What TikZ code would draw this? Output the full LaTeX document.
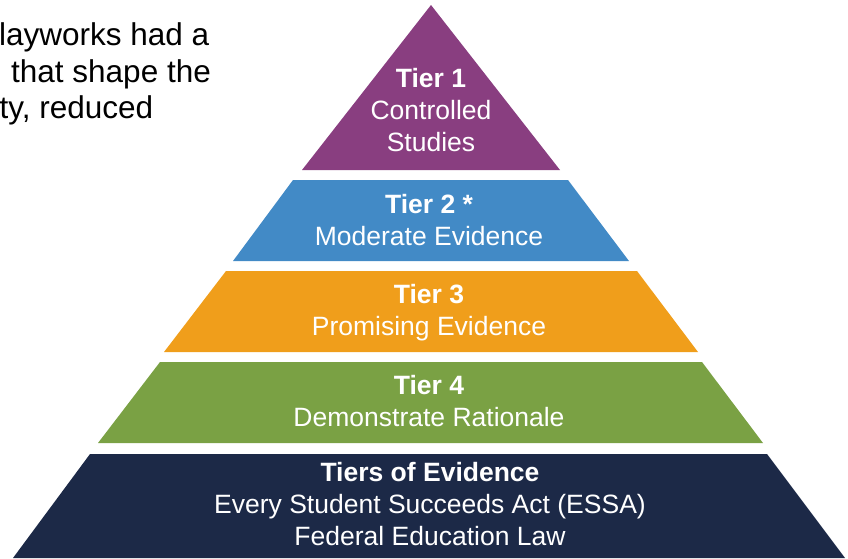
\documentclass[tikz,border=0pt]{standalone}
\usepackage{fontspec}
\setmainfont{Liberation Sans}
\definecolor{tierpurple}{RGB}{137,62,128}
\definecolor{tierblue}{RGB}{66,138,198}
\definecolor{tierorange}{RGB}{240,158,27}
\definecolor{tiergreen}{RGB}{122,161,68}
\definecolor{tiernavy}{RGB}{28,41,71}

\begin{document}
\begin{tikzpicture}[x=1pt,y=-1pt,
		tierlabel/.style={text=white, align=center, inner sep=0pt, font=\fontsize{26.5}{32}\selectfont},
		notetext/.style={anchor=base west, inner sep=0pt, font=\fontsize{31.5}{36}\selectfont}]
		%%%%% START %%%%%
		
		\useasboundingbox (0,0) rectangle (848,558);
		
		% clipped paragraph, top left
		\node[notetext] (note1) at (-1, 45) {layworks had a};
		\node[notetext] (note2) at (11, 82) {that shape the};
		\node[notetext] (note3) at (-0.5, 118) {ty, reduced};
		
		% pyramid bands
		\fill[tierpurple] (431, 5) -- (560, 170) -- (302, 170) -- cycle;
		\fill[tierblue] (293, 180) -- (568, 180) -- (629, 261) -- (233, 261) -- cycle;
		\fill[tierorange] (226, 271) -- (637, 271) -- (698, 352) -- (164, 352) -- cycle;
		\fill[tiergreen] (160, 362) -- (702, 362) -- (763, 443) -- (98, 443) -- cycle;
		\fill[tiernavy] (90, 454) -- (767, 454) -- (845, 558) -- (13, 558) -- cycle;
		
		\node[tierlabel] (tier1) at (431, 110) {\textbf{Tier 1}\\Controlled\\Studies};
		\node[tierlabel] (tier2) at (429, 220) {\textbf{Tier 2 *}\\Moderate Evidence};
		\node[tierlabel] (tier3) at (429, 313) {\textbf{Tier 3}\\Promising Evidence};
		\node[tierlabel] (tier4) at (429, 401) {\textbf{Tier 4}\\Demonstrate Rationale};
		\node[tierlabel] (tiers) at (430, 504) {\textbf{Tiers of Evidence}\\Every Student Succeeds Act (ESSA)\\Federal Education Law};
		
		%%%%% END %%%%%
	\end{tikzpicture}
\end{document}
